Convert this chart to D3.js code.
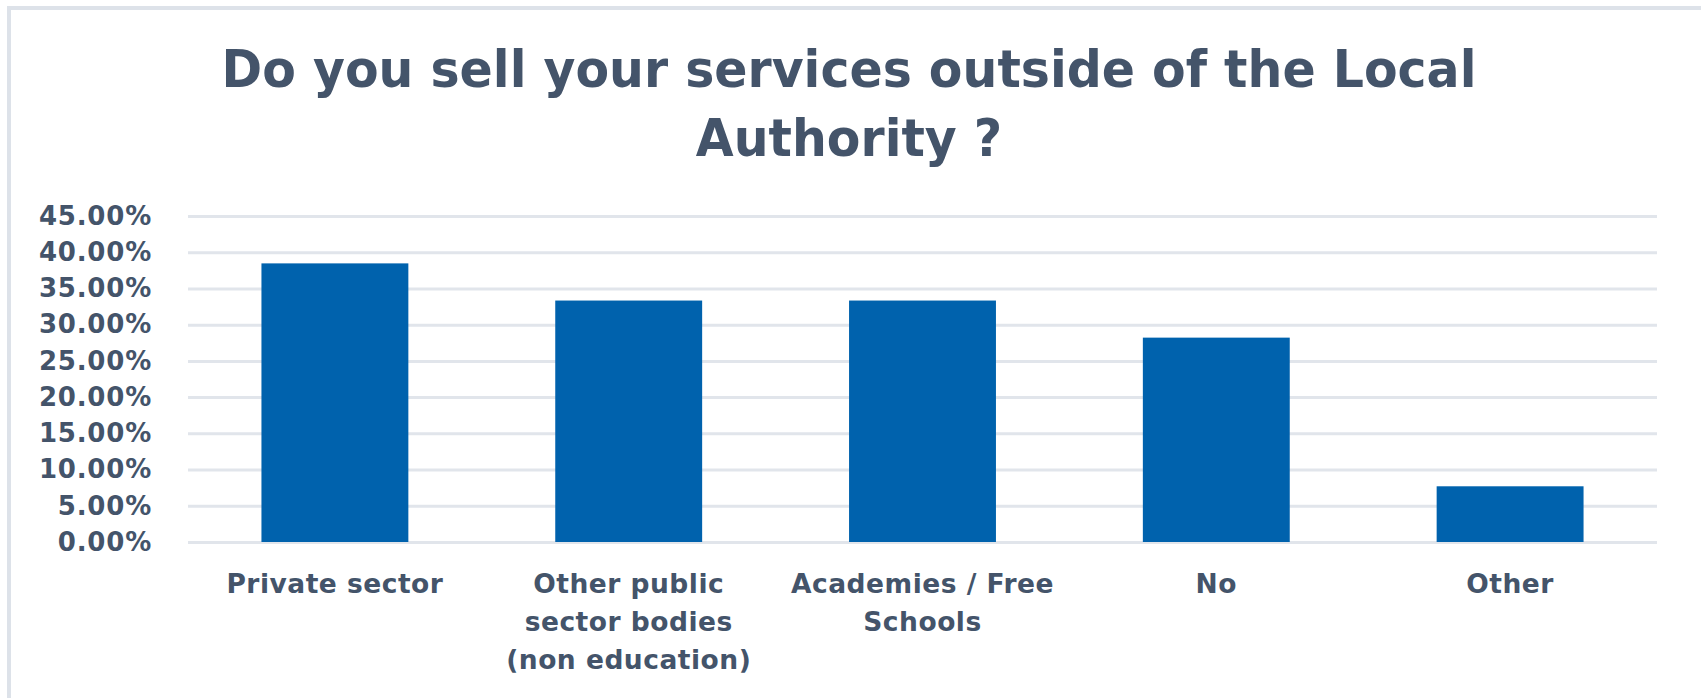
<!DOCTYPE html>
<meta charset="utf-8">
<style>

body {
  margin: 0;
  background: #fff;
}

svg text {
  font-family: "DejaVu Sans", Verdana, sans-serif;
  font-weight: bold;
  fill: #44546a;
}

.grid line {
  stroke: #e1e5eb;
  stroke-width: 3;
}

.grid .domain,
.x .domain {
  display: none;
}

</style>
<body>

<script src="https://cdn.jsdelivr.net/npm/d3@7"></script>

<script>
var titleLines = ["Do you sell your services outside of the Local", "Authority ?"];

var categories = ["Private sector", "Other public sector bodies (non education)", "Academies / Free Schools", "No", "Other"];

var labelLines = [
  ["Private sector"],
  ["Other public", "sector bodies", "(non education)"],
  ["Academies / Free", "Schools"],
  ["No"],
  ["Other"]
];

var values = [38.46, 33.33, 33.33, 28.21, 7.69];

var yTicks = [0, 5, 10, 15, 20, 25, 30, 35, 40, 45];

var W = 1701, H = 698;
var margin = {top: 216, right: 44, bottom: 156, left: 188},
    width = W - margin.left - margin.right,
    height = H - margin.top - margin.bottom;

var svg = d3.select('body').append('svg')
    .attr('width', W)
    .attr('height', H);

// outer chart border (runs off right / bottom edge like the crop)
svg.append('rect')
    .attr('x', 9)
    .attr('y', 8)
    .attr('width', 1800)
    .attr('height', 800)
    .attr('fill', 'none')
    .attr('stroke', '#dde2e9')
    .attr('stroke-width', 4);

// title, stretched to the width it has in the picture
var title = svg.append('g')
    .attr('transform', 'translate(849,0)');

title.selectAll('text')
    .data(titleLines)
  .enter().append('text')
    .attr('x', 0)
    .attr('y', function(d, i) { return 87 + i * 69; })
    .attr('text-anchor', 'middle')
    .style('font-size', '51px')
    .text(function(d) { return d; });

var len = title.select('text').node().getComputedTextLength();
title.attr('transform', 'translate(849,0) scale(' + (1255 / len) + ',1)');

var g = svg.append('g')
    .attr('transform', 'translate(' + margin.left + ',' + margin.top + ')');

var x = d3.scaleBand()
    .domain(categories)
    .range([0, width])
    .paddingInner(0.5)
    .paddingOuter(0.25);

var y = d3.scaleLinear()
    .domain([0, 45])
    .range([height, 0]);

var yAxis = d3.axisLeft(y)
    .tickValues(yTicks)
    .tickSize(-width)
    .tickPadding(36)
    .tickFormat(function(d) { return d.toFixed(2) + '%'; });

g.append('g')
    .attr('class', 'grid')
    .call(yAxis)
  .selectAll('text')
    .style('font-size', '26px')
    .style('letter-spacing', '0.8px');

g.selectAll('.bar')
    .data(values)
  .enter().append('rect')
    .attr('class', 'bar')
    .attr('x', function(d, i) { return x(categories[i]); })
    .attr('y', function(d) { return y(d); })
    .attr('width', x.bandwidth())
    .attr('height', function(d) { return height - y(d); })
    .attr('fill', '#0062ad');

var xAxis = d3.axisBottom(x)
    .tickSize(0)
    .tickFormat('');

var xg = g.append('g')
    .attr('class', 'x')
    .attr('transform', 'translate(0,' + height + ')')
    .call(xAxis);

xg.selectAll('.tick').each(function(d, i) {
  d3.select(this).selectAll('text.lbl')
      .data(labelLines[i])
    .enter().append('text')
      .attr('class', 'lbl')
      .attr('text-anchor', 'middle')
      .attr('y', function(l, j) { return 51 + j * 38; })
      .style('font-size', '26.5px')
      .style('letter-spacing', '0.5px')
      .text(function(l) { return l; });
});

</script>
</body>
